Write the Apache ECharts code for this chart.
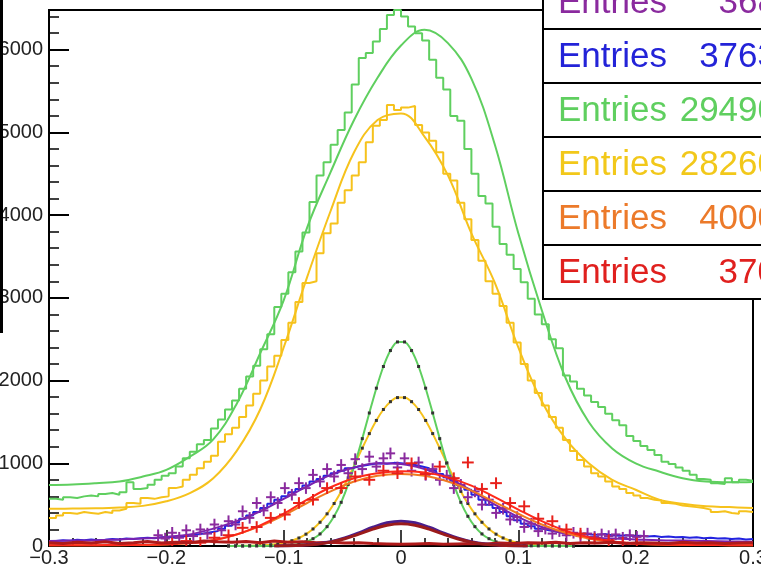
<!DOCTYPE html>
<html><head><meta charset="utf-8">
<script src="https://cdn.jsdelivr.net/npm/echarts@6/dist/echarts.min.js"></script>
<style>html,body{margin:0;padding:0;background:#fff}#c{width:761px;height:570px}</style>
</head><body><div id="c"></div>
<script>
// ---------- data ----------
const histMin = -0.3, histMax = 0.3, binWidth = 0.006;   // 100 bins
const xTicks = [-0.3, -0.2, -0.1, 0, 0.1, 0.2, 0.3];
const yTicks = [0, 1000, 2000, 3000, 4000, 5000, 6000];

const greenHist = [570,560,590,580,600,610,600,630,640,620, 650,770,690,700,740,800,850,880,960,1060,
 1140,1230,1280,1420,1530,1650,1760,1900,2050,2180, 2380,2560,2890,3050,3310,3560,3790,4160,4480,4640,
 4850,5030,5240,5580,5900,5960,6100,6250,6420,6480, 6400,6280,6200,6110,5880,5660,5520,5200,5140,4800,
 4500,4230,4140,3860,3650,3520,3350,3190,2990,2800, 2680,2500,2390,2060,1990,1900,1820,1740,1680,1600,
 1520,1460,1330,1270,1210,1160,1100,1020,990,950, 910,860,810,800,760,750,820,770,800,790];

const yellowHist = [340,370,400,390,410,400,390,410,400,430, 450,520,510,580,570,590,600,700,720,800,
 860,940,1020,1090,1260,1350,1430,1560,1700,1840, 2000,2170,2300,2490,2700,2950,3180,3200,3540,3780,
 3900,4150,4300,4480,4640,4880,5080,5150,5330,5270, 5300,5320,5090,5000,4900,4760,4500,4420,4150,3950,
 3700,3450,3200,3050,2900,2700,2460,2200,2000,1850, 1700,1560,1430,1280,1150,1040,960,880,840,780,
 720,690,640,610,580,560,550,520,510,490, 480,470,460,440,410,420,400,390,420,410];

const blueHist = [60,70,65,75,70,80,70,75,85,80, 90,85,95,100,95,105,110,100,115,125,
 140,150,165,180,210,245,285,330,370,410, 460,510,560,600,650,690,730,780,810,850,
 880,910,940,960,975,990,1000,995,1005,1000, 990,980,960,940,910,870,830,790,730,680,
 620,560,500,460,410,360,310,270,240,210, 190,175,160,150,140,150,140,135,145,130,
 125,130,120,125,115,120,110,115,105,110, 100,105,95,100,90,95,85,90,80,85];

const fitX = [-0.30,-0.28,-0.26,-0.24,-0.22,-0.20,-0.18,-0.16,-0.14,-0.12,-0.10,-0.08,-0.06,-0.04,-0.02,0,
 0.02,0.04,0.06,0.08,0.10,0.12,0.14,0.16,0.18,0.20,0.22,0.24,0.26,0.28,0.30];
const greenFit = [738,745,760,780,840,920,1080,1290,1720,2330,2970,3850,4520,5150,5660,6050,
 6240,6080,5650,4850,3780,2850,2040,1500,1180,1000,900,820,780,770,775];
const yellowFit = [450,452,455,465,485,540,640,820,1150,1650,2400,3250,4050,4760,5150,5230,
 4950,4480,3780,3180,2400,1750,1300,1000,800,680,560,510,480,470,460];
const purpleFit = [60,65,70,80,90,110,140,210,300,420,570,720,860,950,1000,990,
 930,820,670,500,350,230,150,110,90,80,70,65,60,55,50];
const redFit = [10,10,10,12,15,22,40,70,140,250,390,560,710,820,880,905,
 890,830,730,590,440,300,185,105,55,30,18,14,12,10,10];
const orangeFit = [8,8,9,10,12,18,35,70,140,240,370,520,660,780,850,870,
 850,780,670,530,390,260,160,90,50,28,18,14,12,10,10];

// narrow peaks: bins 25..74
const narrowFirstBin = 25;
const greenNarrow = [0,0,0,1,1,1,2,4,7,14,28,50,88,146,234,359,528,744,1004,1298,1608,1908,2170,2363,2467,
 2467,2363,2170,1908,1608,1298,1004,744,528,359,234,146,88,50,28,14,7,4,2,1,1,1,0,0,0];
const yellowNarrow = [1,1,2,3,5,9,16,26,41,64,97,143,206,287,389,514,660,824,1001,1183,1359,1518,1650,1745,1794,
 1794,1745,1650,1518,1359,1183,1001,824,660,514,389,287,206,143,97,64,41,26,16,9,5,3,2,1,1];

// small peaks, x from -0.108 step 0.012
const smallStart = -0.108, smallStep = 0.012;
const darkPurpleSmall = [1,3,10,24,52,97,159,227,280,300,280,227,159,97,52,24,10,3,1];
const darkRedSmall = [1,3,9,21,47,88,143,204,252,270,252,204,143,88,47,21,9,3,1];

// purple points with errors: bins 15..84
const purpleFirstBin = 15;
const purplePts = [130,90,160,100,190,120,200,150,260,190, 300,260,420,340,520,430,590,520,700,620,
 760,700,860,780,930,840,980,880,1050,930, 1080,960,1060,1120,950,1060,910,1010,860,930,
 800,850,700,740,590,660,500,560,400,450, 320,350,230,270,180,210,150,180,130,160,
 120,150,110,140,120,140,100,130,110,120];
const purpleErr = 70;

// red points, x from -0.195 step 0.012
const redStart = -0.195, redStep = 0.012;
const redPts = [30,60,40,100,130,220,230,340,380,520,560,700,700,840,800,910,880,1000,870,960,
 820,1010,690,760,520,480,330,300,200,150,90,70,40,30];
const redErr = 70;

// baseline noise, x from -0.3 step 0.012
const baseStart = -0.3, baseStep = 0.012;
const baseNoise = [40,30,45,35,50,30,40,55,35,45,40,60,50,45,55,40,60,45,50,40,45,35,40,30,25,20,
 25,30,20,25,30,25,35,30,40,35,45,30,40,35,45,30,40,35,30,45,35,40,30,35,40];

const boxes = [
  {label:'Entries', value:'368', color:'#8a2a9e'},
  {label:'Entries', value:'3763', color:'#2323d8'},
  {label:'Entries', value:'29490', color:'#5fcf5f'},
  {label:'Entries', value:'28260', color:'#f2c81a'},
  {label:'Entries', value:'4000', color:'#ec7a2a'},
  {label:'Entries', value:'370', color:'#e0201e'}
];

// ---------- build ----------
const FONT = "'Liberation Sans', Arial, Helvetica, sans-serif";
function histData(vals){
  const d = vals.map((v,i)=>[histMin + i*binWidth, v]);
  d.push([histMax, vals[vals.length-1]]);
  return d;
}
function pairs(xs, ys){ return ys.map((v,i)=>[xs[i], v]); }
function binCenter(i){ return histMin + (i+0.5)*binWidth; }
function stepData(start, step, ys){ return ys.map((v,i)=>[start + i*step, v]); }

function histSeries(vals, color, z){
  return {type:'line', step:'end', data:histData(vals), showSymbol:false, z:z,
    lineStyle:{color:color, width:2}, itemStyle:{color:color}, clip:true, silent:true};
}
function curveSeries(ys, color, z, w){
  return {type:'line', smooth:0.4, data:pairs(fitX, ys), showSymbol:false, z:z,
    lineStyle:{color:color, width:w||2}, clip:true, silent:true};
}
function errSeries(data, color, z, halfW){
  return {type:'custom', z:z, clip:true, silent:true, data:data,
    renderItem:function(params, api){
      const x = api.value(0), y = api.value(1), e = api.value(2);
      const p = api.coord([x, y]);
      const t = api.coord([x, y + e]);
      const b = api.coord([x, Math.max(0, y - e)]);
      const l = api.coord([x - halfW, y]);
      const r = api.coord([x + halfW, y]);
      return {type:'group', children:[
        {type:'line', shape:{x1:p[0], y1:t[1], x2:p[0], y2:b[1]}, style:{stroke:color, lineWidth:2}},
        {type:'line', shape:{x1:l[0], y1:p[1], x2:r[0], y2:p[1]}, style:{stroke:color, lineWidth:2}}
      ]};
    }};
}

const greenNarrowData = greenNarrow.map((v,i)=>[binCenter(narrowFirstBin+i), v]);
const yellowNarrowData = yellowNarrow.map((v,i)=>[binCenter(narrowFirstBin+i), v]);
const purpleErrData = purplePts.map((v,i)=>[binCenter(purpleFirstBin+i), v, purpleErr]);
const redErrData = redPts.map((v,i)=>[redStart + i*redStep, v, redErr]);

const series = [
  histSeries(greenHist, '#5fcf5f', 2),
  curveSeries(greenFit, '#5fcf5f', 3),
  histSeries(yellowHist, '#f6c21c', 4),
  curveSeries(yellowFit, '#f6c21c', 5),
  {type:'line', smooth:0.3, data:yellowNarrowData, z:6, symbol:'rect', symbolSize:3, showSymbol:true,
   lineStyle:{color:'#f6c21c', width:2}, itemStyle:{color:'#333'}, clip:true, silent:true},
  {type:'line', smooth:0.3, data:greenNarrowData, z:7, symbol:'rect', symbolSize:3, showSymbol:true,
   lineStyle:{color:'#5fcf5f', width:2}, itemStyle:{color:'#333'}, clip:true, silent:true},
  histSeries(blueHist, '#2323e0', 8),
  curveSeries(purpleFit, '#7a22b0', 9),
  errSeries(purpleErrData, '#8a2a9e', 10, 0.004),
  curveSeries(orangeFit, '#f07a20', 11),
  curveSeries(redFit, '#ff2a1a', 12),
  errSeries(redErrData, '#e8201a', 13, 0.005),
  {type:'line', data:stepData(baseStart, baseStep, baseNoise), showSymbol:false, z:14,
   lineStyle:{color:'#b01a1a', width:3}, clip:true, silent:true},
  {type:'line', smooth:0.4, data:stepData(smallStart, smallStep, darkPurpleSmall), showSymbol:false, z:15,
   lineStyle:{color:'#4b1e8c', width:3}, clip:true, silent:true},
  {type:'line', smooth:0.4, data:stepData(smallStart, smallStep, darkRedSmall), showSymbol:false, z:16,
   lineStyle:{color:'#9b1b1b', width:3}, clip:true, silent:true}
];

const graphics = [
  {type:'rect', z:100, shape:{x:0, y:0, width:3, height:333}, style:{fill:'#000'}}
];
const boxTop0 = -25, boxH = 54;
boxes.forEach((b, k)=>{
  const top = boxTop0 + k*boxH;
  graphics.push({type:'rect', z:100, shape:{x:543, y:top, width:260, height:boxH},
    style:{fill:'#fff', stroke:'#000', lineWidth:2}});
  graphics.push({type:'text', z:101, x:558, y:top+28,
    style:{text:b.label, fill:b.color, font:"35px "+FONT, textAlign:'left', textVerticalAlign:'middle', verticalAlign:'middle'}});
  graphics.push({type:'text', z:101, x:777, y:top+28,
    style:{text:b.value, fill:b.color, font:"35px "+FONT, textAlign:'right', textVerticalAlign:'middle', verticalAlign:'middle'}});
});

function fmtX(v){
  const r = Math.round(v*10)/10;
  if (xTicks.indexOf(r) < 0) return '';
  if (r === 0) return '0';
  return (r < 0 ? '\u22120' : '0') + '.' + Math.round(Math.abs(r)*10);
}
function fmtY(v){ return yTicks.indexOf(v) >= 0 ? String(v) : ''; }

const chart = echarts.init(document.getElementById('c'), null, {renderer:'canvas'});
chart.setOption({
  animation:false,
  backgroundColor:'#fff',
  grid:{left:49, top:10, right:8, bottom:24, containLabel:false, outerBoundsMode:'none',
        show:true, borderColor:'#000', borderWidth:2, backgroundColor:'transparent'},
  xAxis:[
    {type:'value', min:histMin, max:histMax, interval:0.1, position:'bottom',
     axisLine:{show:true, onZero:false, lineStyle:{color:'#000', width:2}},
     axisTick:{show:true, inside:true, length:16, lineStyle:{color:'#000', width:1.5}},
     axisLabel:{show:true, formatter:fmtX, fontSize:20, fontFamily:FONT, color:'#222', margin:2, showMinLabel:true, showMaxLabel:true},
     splitLine:{show:false}},
    {type:'value', min:histMin, max:histMax, interval:0.02, position:'bottom',
     axisLine:{show:false, onZero:false}, axisTick:{show:true, inside:true, length:8, lineStyle:{color:'#000', width:1.5}},
     axisLabel:{show:false}, splitLine:{show:false}}
  ],
  yAxis:[
    {type:'value', min:0, max:6480, interval:1000, position:'left',
     axisLine:{show:true, onZero:false, lineStyle:{color:'#000', width:2}},
     axisTick:{show:true, inside:true, length:20, lineStyle:{color:'#000', width:2}},
     axisLabel:{show:true, formatter:fmtY, fontSize:20, fontFamily:FONT, color:'#222', margin:6, showMaxLabel:false},
     splitLine:{show:false}},
    {type:'value', min:0, max:6480, interval:200, position:'left',
     axisLine:{show:false, onZero:false}, axisTick:{show:true, inside:true, length:10, lineStyle:{color:'#000', width:1.5}},
     axisLabel:{show:false}, splitLine:{show:false}}
  ],
  series: series,
  graphic: graphics
});
</script>
</body></html>
